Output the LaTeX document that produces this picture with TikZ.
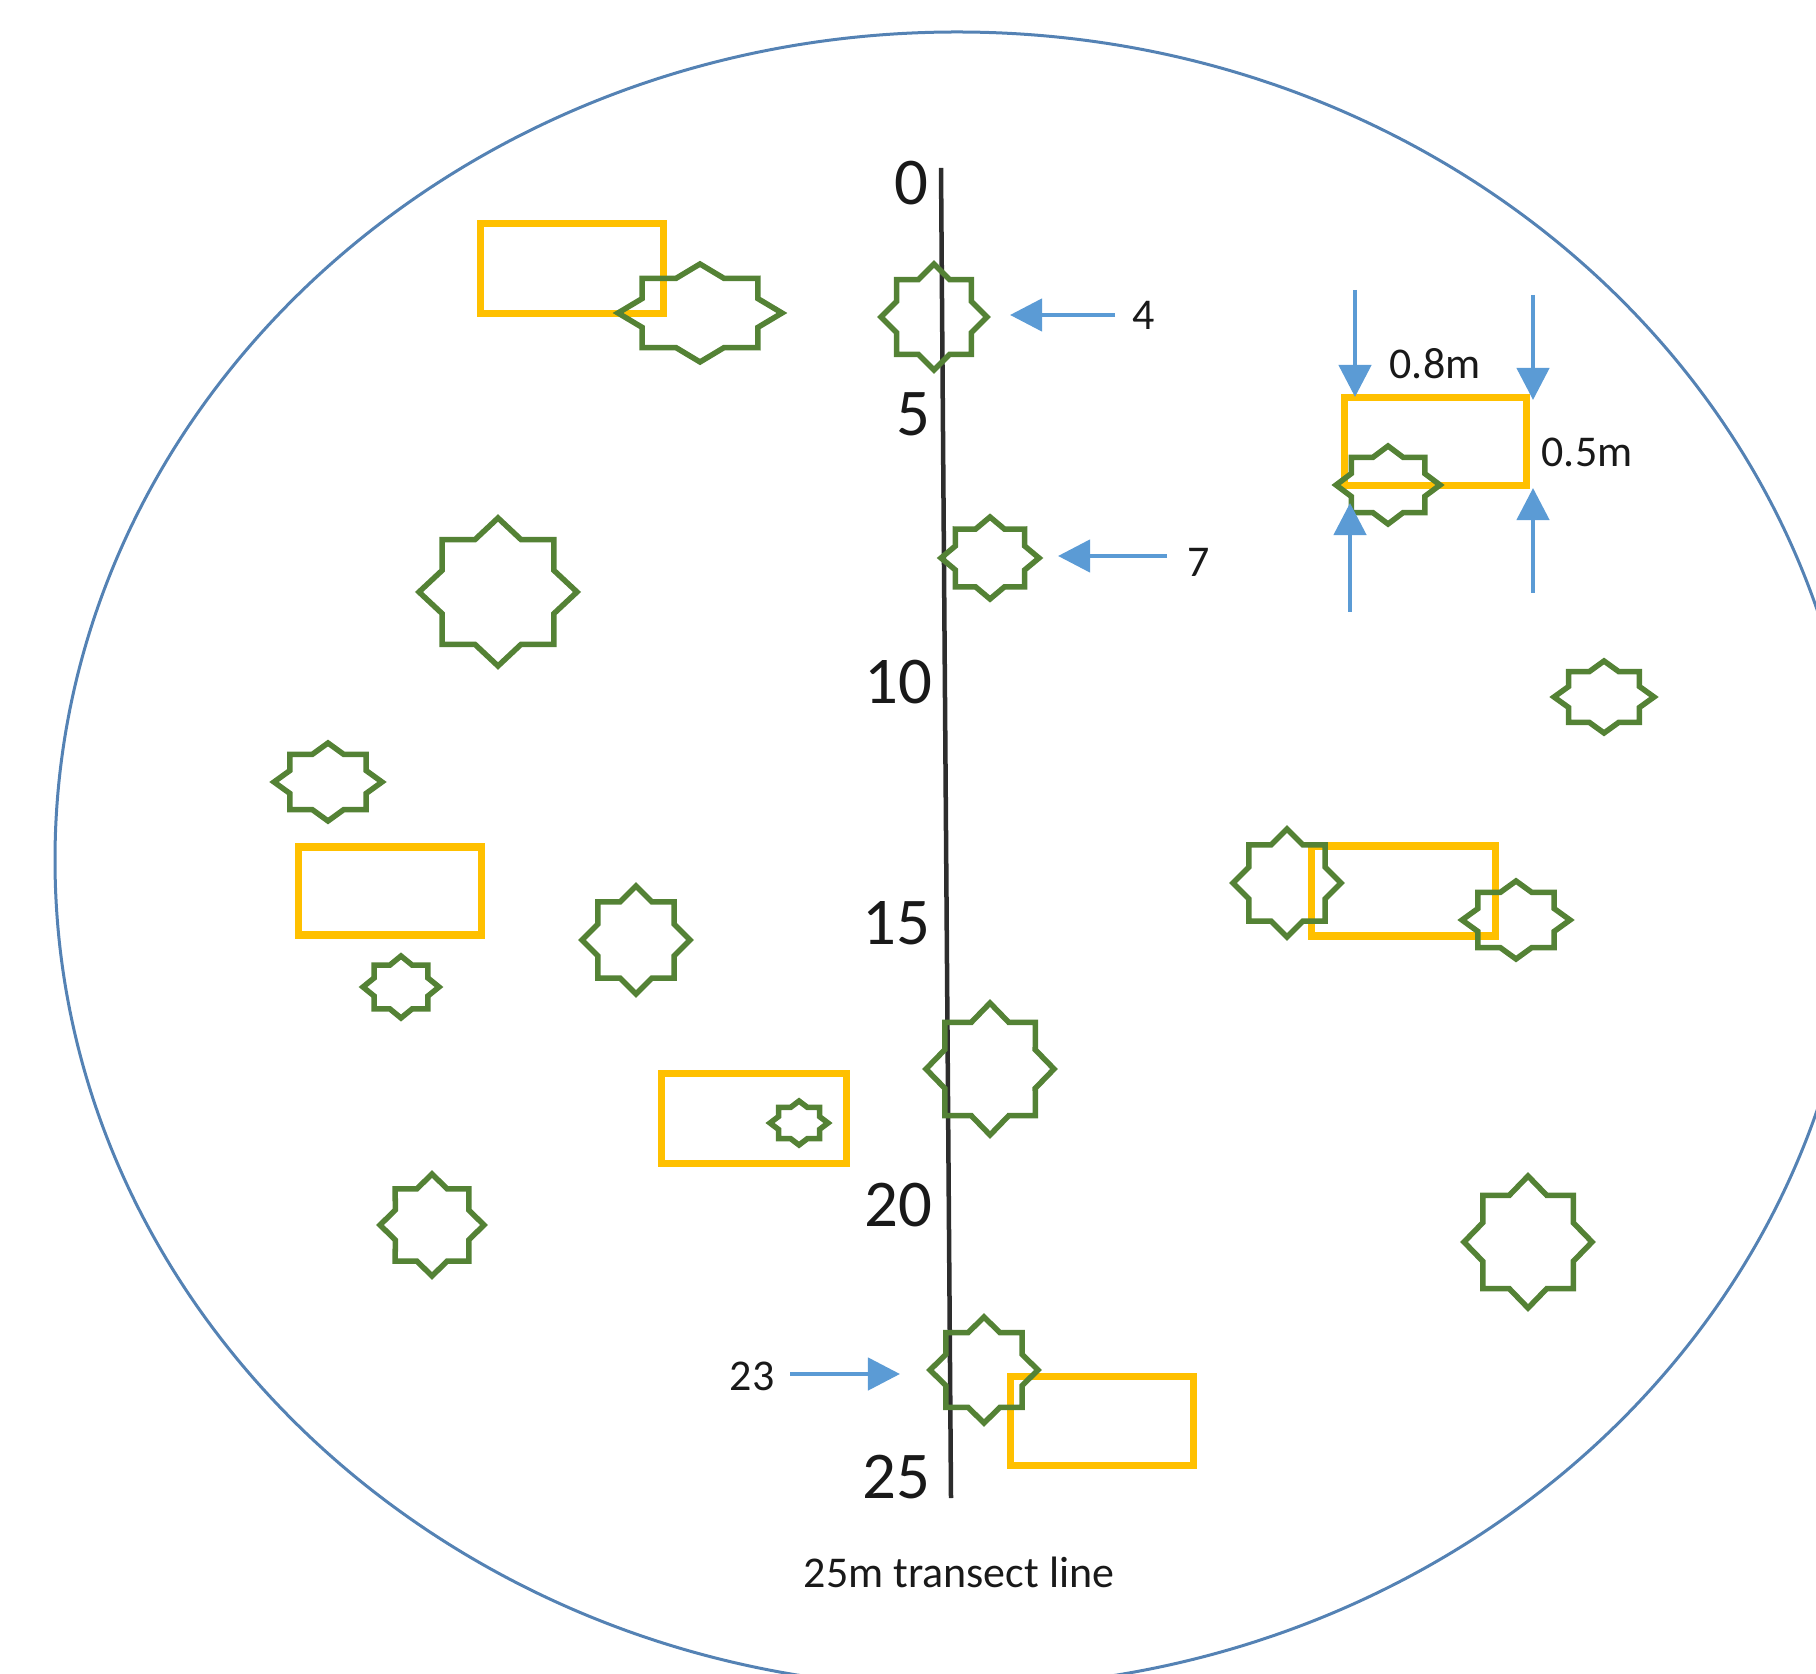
\documentclass[tikz,border=0pt]{standalone}
\usepackage{fontspec}
\setmainfont{Carlito}
\usetikzlibrary{arrows.meta}
\definecolor{ringblue}{RGB}{84,130,180}
\definecolor{plantgreen}{RGB}{84,130,53}
\definecolor{quadorange}{RGB}{255,192,0}
\definecolor{arrowblue}{RGB}{91,155,213}
\definecolor{linegray}{RGB}{45,45,45}
\definecolor{txt}{RGB}{25,25,25}
\tikzset{
  plantstar/.style={draw=plantgreen, line width=0.055cm, line join=miter},
  quadbox/.style={draw=quadorange, line width=0.07cm},
  ring/.style={draw=ringblue, line width=0.03cm},
  transect/.style={draw=linegray, line width=0.045cm},
  pointer/.style={draw=arrowblue, line width=0.045cm, -{Triangle[width=0.32cm,length=0.32cm]}},
  ticklabel/.style={text=txt, font=\fontsize{19}{19}\selectfont, inner sep=0pt, anchor=east},
  smalllabel/.style={text=txt, font=\fontsize{12.5}{12.5}\selectfont, inner sep=0pt},
}
% star: name, x, y, outer radius x, outer radius y (ink extents minus miter)
\newcommand{\octstar}[5]{%
  \coordinate (#1) at (#2,#3);
  \draw[plantstar, shift={(#1)}, xscale={#4-4}, yscale={#5-4}] (0:1)
    \foreach \k in {0,...,6} { -- ({45*\k+22.5}:0.765) -- ({45*\k+45}:1) }
    -- (337.5:0.765) -- cycle;
}
\begin{document}
\begin{tikzpicture}[x=0.01cm, y=-0.01cm]
\useasboundingbox (0,0) rectangle (1816,1674);
\clip (0,0) rectangle (1816,1674);
% plot boundary
\draw[ring] (957,860) ellipse [x radius=902, y radius=828];
% transect line
\coordinate (ltop) at (941,168);
\coordinate (lbot) at (951,1498);
\draw[transect] (ltop) -- (lbot);
% tick labels
\node[ticklabel] (t0) at (929,183) {0};
\node[ticklabel] (t5) at (931,414) {5};
\node[ticklabel] (t10) at (933,682) {10};
\node[ticklabel] (t15) at (931,923) {15};
\node[ticklabel] (t20) at (933,1205) {20};
\node[ticklabel] (t25) at (931,1477) {25};
\node[smalllabel] (cap) at (959,1572) {25m transect line};
% quadrats
\draw[quadbox] (480,224) rectangle (663,314);
\draw[quadbox] (1344,398) rectangle (1526,486);
\draw[quadbox] (298,847) rectangle (481,935);
\draw[quadbox] (1311,846) rectangle (1495,936);
\draw[quadbox] (661,1073) rectangle (846,1163);
\draw[quadbox] (1010,1376) rectangle (1193,1465);
% plants
\octstar{s1}{700}{313}{86}{53}
\octstar{s2}{934}{317}{57}{57}
\octstar{s3}{498}{592}{83}{78}
\octstar{s4}{990}{558}{53}{45}
\octstar{s5}{1388}{485}{56}{43}
\octstar{s6}{1604}{697}{54}{40}
\octstar{s7}{328}{782}{58}{43}
\octstar{s8}{401}{987}{42}{35}
\octstar{s9}{636}{940}{58}{58}
\octstar{s10}{1287}{883}{58}{58}
\octstar{s11}{1516}{920}{58}{43}
\octstar{s12}{990}{1069}{68}{70}
\octstar{s13}{799}{1123}{33}{26}
\octstar{s14}{432}{1225}{56}{55}
\octstar{s15}{1528}{1242}{68}{70}
\octstar{s16}{984}{1370}{58}{57}
% pointer arrows
\node[smalllabel] (l4) at (1144,315) {4};
\coordinate (a4s) at (1115,315);
\coordinate (a4e) at (1010,315);
\draw[pointer] (a4s) -- (a4e);
\node[smalllabel] (l7) at (1199,562) {7};
\coordinate (a7s) at (1167,556);
\coordinate (a7e) at (1058,556);
\draw[pointer] (a7s) -- (a7e);
\node[smalllabel] (l23) at (752,1376) {23};
\coordinate (a23s) at (790,1374);
\coordinate (a23e) at (900,1374);
\draw[pointer] (a23s) -- (a23e);
% dimension arrows
\coordinate (d1s) at (1355,290);
\coordinate (d1e) at (1355,397);
\coordinate (d2s) at (1533,295);
\coordinate (d2e) at (1533,400);
\coordinate (d3s) at (1350,612);
\coordinate (d3e) at (1350,503);
\coordinate (d4s) at (1533,593);
\coordinate (d4e) at (1533,488);
\draw[pointer] (d1s) -- (d1e);
\draw[pointer] (d2s) -- (d2e);
\draw[pointer] (d3s) -- (d3e);
\draw[pointer] (d4s) -- (d4e);
\node[smalllabel] (w) at (1435,364) {0.8m};
\node[smalllabel] (h) at (1587,452) {0.5m};
\end{tikzpicture}
\end{document}
